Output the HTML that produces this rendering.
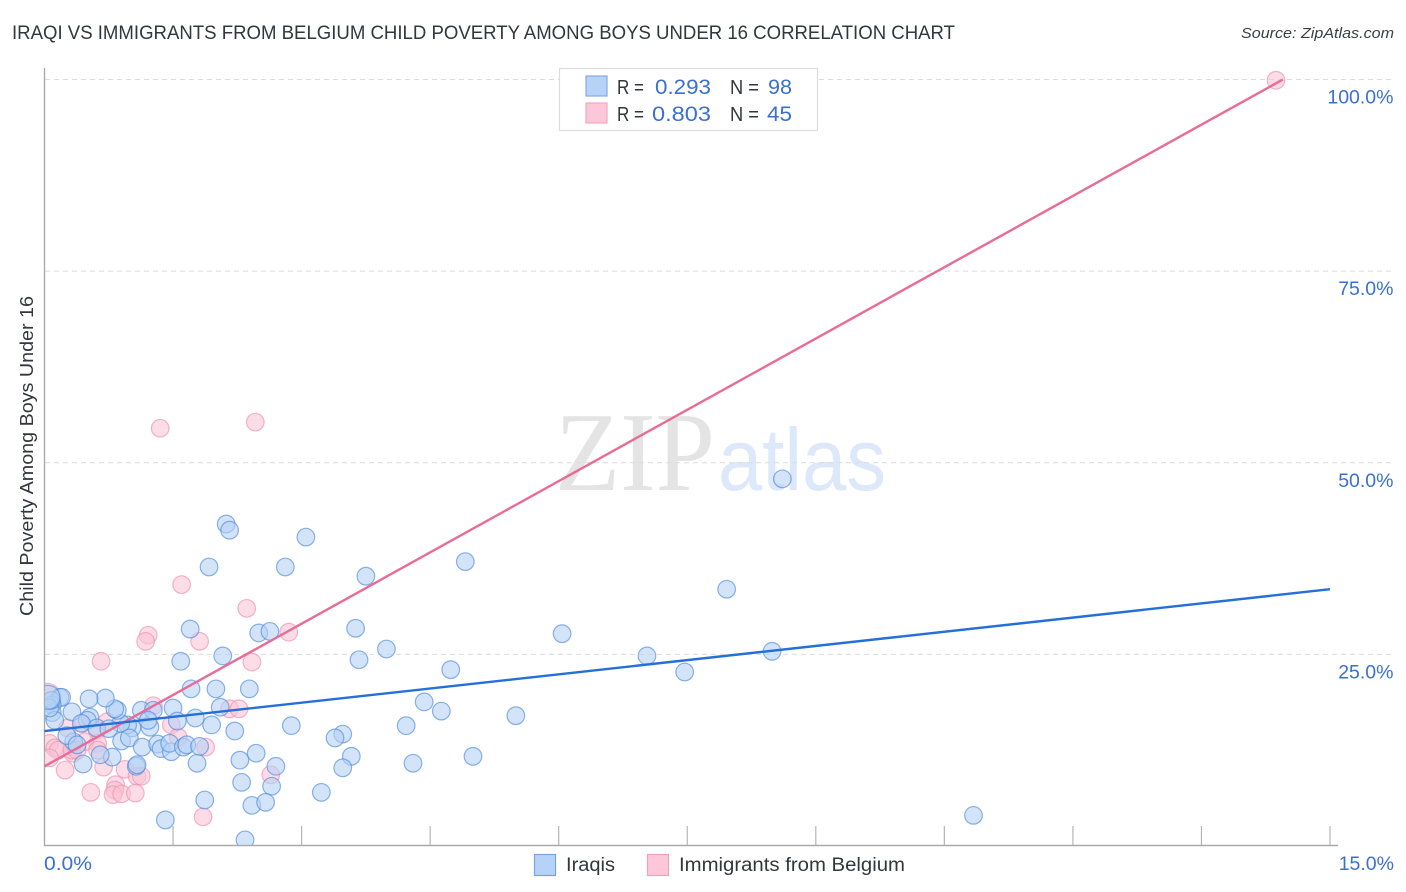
<!DOCTYPE html>
<html lang="en">
<head>
<meta charset="utf-8">
<title>Iraqi vs Immigrants from Belgium Child Poverty Correlation Chart</title>
<style>
html,body{margin:0;padding:0;background:#fff;width:1406px;height:892px;overflow:hidden}
svg{display:block;font-family:"Liberation Sans",sans-serif}
</style>
</head>
<body>
<svg id="chart" xmlns="http://www.w3.org/2000/svg" width="1406" height="892" viewBox="0 0 1406 892">
  <defs>
    <clipPath id="plot-clip"><rect x="45" y="60" width="1300" height="785"/></clipPath>
  </defs>
  <text x="12" y="39" font-size="19" fill="#33363d" textLength="943" lengthAdjust="spacingAndGlyphs">IRAQI VS IMMIGRANTS FROM BELGIUM CHILD POVERTY AMONG BOYS UNDER 16 CORRELATION CHART</text>
  <text x="1241" y="38" font-size="15" font-style="italic" fill="#3c3f46" textLength="153" lengthAdjust="spacingAndGlyphs">Source: ZipAtlas.com</text>
  <g>
    <text x="555" y="490" font-family="'Liberation Serif',serif" font-size="112" fill="#e4e4e4" textLength="160" lengthAdjust="spacingAndGlyphs">ZIP</text>
    <text x="718" y="490" font-family="'Liberation Sans',sans-serif" font-size="88" fill="#dde8fa" textLength="168" lengthAdjust="spacingAndGlyphs">atlas</text>
  </g>
  <g id="grid"></g>
  <g id="axes"></g>
  <g id="points" clip-path="url(#plot-clip)"></g>
  <g id="trends"></g>
  <g id="ticklabels"></g>
  <text transform="translate(33,456) rotate(-90)" text-anchor="middle" font-size="18" fill="#33363d" textLength="320" lengthAdjust="spacingAndGlyphs">Child Poverty Among Boys Under 16</text>

  <g>
    <rect x="559.5" y="68.5" width="258" height="62" fill="#fff" stroke="#dcdcdc" stroke-width="1.2"/>
    <rect x="586" y="76" width="21" height="20" fill="#b7d2f7" stroke="#86abe4" stroke-width="1.2"/>
    <rect x="586" y="103" width="21" height="20" fill="#fcc7d8" stroke="#f2a7c0" stroke-width="1.2"/>
    <g font-size="20" fill="#33363d">
      <text x="617" y="94" textLength="27" lengthAdjust="spacingAndGlyphs">R =</text>
      <text x="730" y="94" textLength="29" lengthAdjust="spacingAndGlyphs">N =</text>
      <text x="617" y="121" textLength="27" lengthAdjust="spacingAndGlyphs">R =</text>
      <text x="730" y="121" textLength="29" lengthAdjust="spacingAndGlyphs">N =</text>
    </g>
    <g font-size="21" fill="#3b70d0">
      <text x="655" y="94" textLength="56" lengthAdjust="spacingAndGlyphs">0.293</text>
      <text x="768" y="94" textLength="24" lengthAdjust="spacingAndGlyphs">98</text>
      <text x="652" y="121" textLength="59" lengthAdjust="spacingAndGlyphs">0.803</text>
      <text x="767" y="121" textLength="25" lengthAdjust="spacingAndGlyphs">45</text>
    </g>
  </g>

  <g>
    <g>
      <rect x="534.5" y="854.5" width="21" height="21" fill="#b7d2f7" stroke="#79a3e2" stroke-width="1.2"/>
      <text x="566" y="871" font-size="19" fill="#33363d" textLength="49" lengthAdjust="spacingAndGlyphs">Iraqis</text>
    </g>
    <g>
      <rect x="647.5" y="854.5" width="21" height="21" fill="#fcc7d8" stroke="#f2a0bb" stroke-width="1.2"/>
      <text x="679" y="871" font-size="19" fill="#33363d" textLength="226" lengthAdjust="spacingAndGlyphs">Immigrants from Belgium</text>
    </g>
  </g>
</svg>
<script>
const xTicks = [0,1.5,3,4.5,6,7.5,9,10.5,12,13.5,15];
const xTickLabels = ["0.0%","15.0%"];
const yTicks = [25,50,75,100];
const yTickLabels = ["25.0%","50.0%","75.0%","100.0%"];

const iraqiX = [8.61,2.12,2.16,3.05,1.92,2.81,3.75,4.91,7.96,1.70,2.50,2.63,3.63,6.04,3.99,3.67,2.08,1.59,7.03,8.49,7.47,4.74,1.71,2.00,2.39,4.43,4.63,5.50,4.22,2.88,2.22,3.48,3.39,3.58,3.48,4.30,5.00,2.47,2.28,2.70,2.30,2.65,3.23,1.87,2.42,2.58,1.41,10.84,2.34,1.78,1.95,1.76,2.05,1.50,1.55,1.23,1.13,1.27,1.21,1.02,0.97,0.89,0.85,0.82,0.71,0.52,0.32,0.53,0.50,0.43,0.61,0.75,0.90,0.99,1.14,1.32,1.36,1.48,1.46,1.62,1.66,1.81,0.79,0.65,0.45,1.07,1.08,0.34,0.26,0.38,0.18,0.20,0.09,0.09,0.12,0.06,0.08,0.04];
const iraqiY = [47.9,42.0,41.2,40.3,36.4,36.4,35.2,37.1,33.5,28.3,27.8,28.0,28.4,27.7,25.7,24.3,24.8,24.1,24.8,25.4,22.7,23.0,20.5,20.5,20.5,18.8,17.6,17.0,15.7,15.7,15.0,14.6,14.1,11.7,10.2,10.8,11.7,12.1,11.2,10.4,8.3,7.8,7.0,6.0,5.3,5.7,3.4,4.0,0.8,10.8,15.8,16.7,18.1,18.0,16.3,15.5,17.7,17.7,16.4,15.4,15.8,16.0,17.7,17.9,19.3,19.2,17.5,16.8,16.4,16.0,15.4,15.3,13.7,14.1,12.9,13.3,12.7,12.3,13.4,12.9,13.2,13.0,11.6,11.9,10.7,10.4,10.6,13.6,14.4,13.2,19.4,19.4,18.4,17.4,16.4,18.0,19.0,19.4];
const belgiumX = [14.37,2.46,1.35,1.60,2.36,1.21,1.18,1.81,2.85,2.42,0.66,1.27,2.16,2.27,1.48,1.56,1.88,2.64,1.85,0.24,0.54,0.69,0.94,1.08,1.13,0.83,0.82,0.80,0.90,1.06,0.06,0.12,0.16,0.06,0.33,0.44,0.27,0.61,0.73,0.62,0.47,0.32,0.38,0.62,0.03];
const belgiumY = [99.9,55.3,54.5,34.1,31.0,27.5,26.7,26.7,27.9,24.0,24.1,18.3,17.9,17.9,15.8,14.2,12.9,9.3,3.8,9.9,7.0,10.3,10.0,9.1,9.1,8.0,7.3,6.7,6.8,6.9,13.4,12.8,12.5,11.5,12.1,16.0,15.4,15.1,16.2,13.4,13.6,12.5,12.5,12.5,19.4];

const iraqiTrendX = [0,15];
const iraqiTrendY = [15.0,33.5];
const belgiumTrendX = [0,14.45];
const belgiumTrendY = [10.4,100];

const NS = "http://www.w3.org/2000/svg";
function xScale(v){ return 44.5 + v * (1330 - 44.5) / 15; }
function yScale(v){ return 846 - v * (846 - 79.5) / 100; }

function make(tag, attrs, parent){
  const el = document.createElementNS(NS, tag);
  for (const k in attrs) el.setAttribute(k, attrs[k]);
  parent.appendChild(el);
  return el;
}

const gridG = document.getElementById('grid');
const axesG = document.getElementById('axes');
const pointsG = document.getElementById('points');
const trendsG = document.getElementById('trends');
const labelsG = document.getElementById('ticklabels');

yTicks.forEach(function(t){
  const ln = make('line', {x1:45, x2:1393, y1:yScale(t), y2:yScale(t), stroke:'#dcdcdc', 'stroke-width':1, 'stroke-dasharray':'5 4'}, gridG);
  
  
});

const yAxis = make('line', {x1:44.5, x2:44.5, y1:68, y2:846, stroke:'#aaaaaa', 'stroke-width':1.4}, axesG);


const xAxis = make('line', {x1:44, x2:1338, y1:845.5, y2:845.5, stroke:'#aaaaaa', 'stroke-width':1.4}, axesG);


xTicks.forEach(function(t, i){
  if (i === 0) return;
  const tk = make('line', {x1:xScale(t), x2:xScale(t), y1:826, y2:845, stroke:'#b5b5b5', 'stroke-width':1.2}, axesG);
  
  
});

function drawSeries(xs, ys, fill, stroke, name){
  xs.forEach(function(x, i){
    const isOriginCluster = i === xs.length - 1;
    const r = isOriginCluster ? (name === 'iraqi-point' ? 12 : 14) : 8.8;
    const c = make('circle', {cx:xScale(x), cy:yScale(ys[i]), r:r, fill:fill, 'fill-opacity':0.58, stroke:stroke, 'stroke-opacity':0.65, 'stroke-width':1.2}, pointsG);
    
    
  });
}
drawSeries(belgiumX, belgiumY, '#f9c3d4', '#ee8fae', 'belgium-point');
drawSeries(iraqiX, iraqiY, '#b3d0f5', '#4f8ada', 'iraqi-point');

const pinkLine = make('line', {x1:xScale(belgiumTrendX[0]), y1:yScale(belgiumTrendY[0]), x2:xScale(belgiumTrendX[1]), y2:yScale(belgiumTrendY[1]), stroke:'#e96b97', 'stroke-width':2.4}, trendsG);


const blueLine = make('line', {x1:xScale(iraqiTrendX[0]), y1:yScale(iraqiTrendY[0]), x2:xScale(iraqiTrendX[1]), y2:yScale(iraqiTrendY[1]), stroke:'#2470d8', 'stroke-width':2.4}, trendsG);



yTicks.forEach(function(t, i){
  const tx = make('text', {x:1393.5, y:yScale(t) + 24, 'text-anchor':'end', 'font-size':19.5, fill:'#3b70d0'}, labelsG);
  
  
  tx.textContent = yTickLabels[i];
});
const x0 = make('text', {x:44, y:870, 'font-size':19.5, fill:'#3b70d0', textLength:48, lengthAdjust:'spacingAndGlyphs'}, labelsG);


x0.textContent = xTickLabels[0];
const x1 = make('text', {x:1394, y:870, 'text-anchor':'end', 'font-size':19.5, fill:'#3b70d0'}, labelsG);


x1.textContent = xTickLabels[1];
</script>
</body>
</html>
